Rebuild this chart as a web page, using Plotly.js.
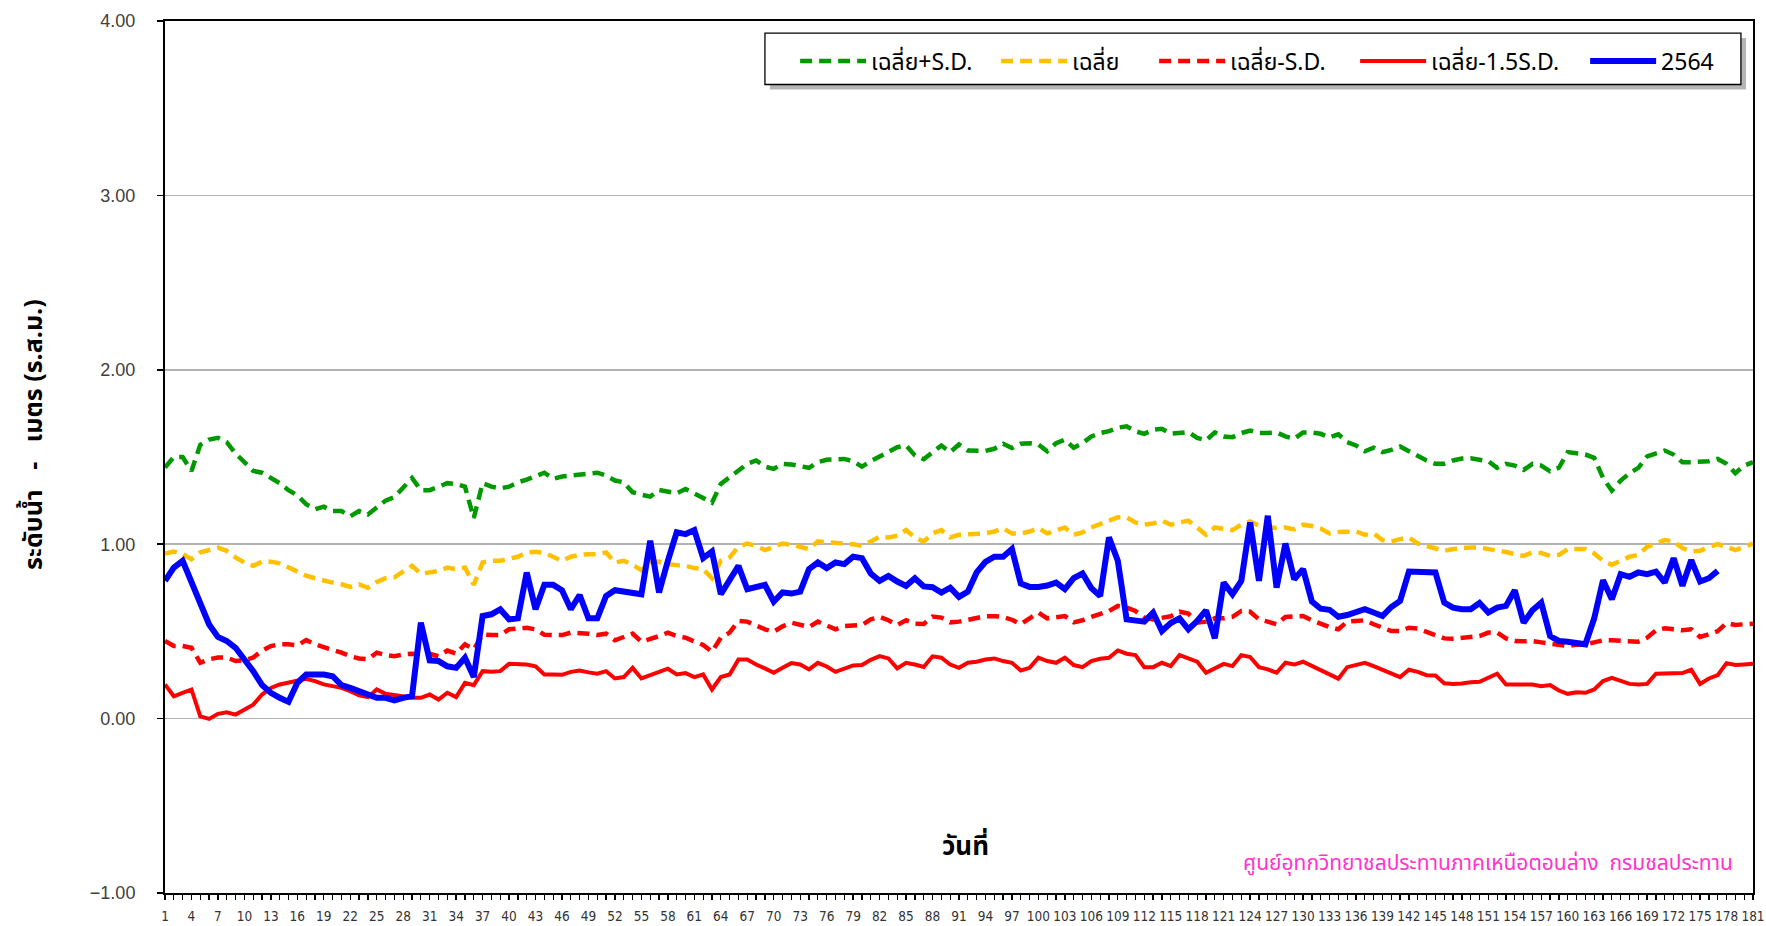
<!DOCTYPE html>
<html>
<head>
<meta charset="utf-8">
<script src="https://cdn.plot.ly/plotly-3.0.1.min.js"></script>
<style>
  html, body { margin: 0; padding: 0; background: #ffffff; }
  #chart { width: 1766px; height: 926px; }
</style>
</head>
<body>
<div id="chart"></div>
<script>
// Day numbers (category axis)
const days = [
  1,2,3,4,5,6,7,8,9,10,11,12,13,14,15,16,17,18,19,20,
  21,22,23,24,25,26,27,28,29,30,31,32,33,34,35,36,37,38,39,40,
  41,42,43,44,45,46,47,48,49,50,51,52,53,54,55,56,57,58,59,60,
  61,62,63,64,65,66,67,68,69,70,71,72,73,74,75,76,77,78,79,80,
  81,82,83,84,85,86,87,88,89,90,91,92,93,94,95,96,97,98,99,100,
  101,102,103,104,105,106,107,108,109,110,111,112,113,114,115,116,117,118,119,120,
  121,122,123,124,125,126,127,128,129,130,131,132,133,134,135,136,137,138,139,140,
  141,142,143,144,145,146,147,148,149,150,151,152,153,154,155,156,157,158,159,160,
  161,162,163,164,165,166,167,168,169,170,171,172,173,174,175,176,177,178,179,180,181
];

// Labelled x ticks (every 3 days)
const labelDays = [1,4,7,10,13,16,19,22,25,28,31,34,37,40,43,46,49,52,55,58,61,64,67,70,73,76,79,82,85,88,
  91,94,97,100,103,106,109,112,115,118,121,124,127,130,133,136,139,142,145,148,151,154,157,160,163,166,169,172,175,178,181];

// เฉลี่ย+S.D.
const meanPlusSD = [
  1.44,1.50,1.50,1.42,1.57,1.60,1.61,1.585,1.52,1.47,1.42,1.41,1.38,1.35,1.31,1.28,1.23,1.20,1.215,1.19,
  1.19,1.16,1.19,1.17,1.21,1.25,1.27,1.33,1.38,1.31,1.31,1.33,1.35,1.345,1.33,1.15,1.35,1.33,1.32,1.33,
  1.355,1.37,1.39,1.41,1.375,1.388,1.393,1.397,1.407,1.41,1.393,1.365,1.355,1.298,1.284,1.273,1.311,1.303,1.292,1.317,
  1.288,1.265,1.238,1.346,1.384,1.426,1.461,1.48,1.445,1.432,1.461,1.457,1.445,1.438,1.47,1.484,1.487,1.489,1.476,1.445,
  1.476,1.503,1.528,1.556,1.566,1.509,1.487,1.525,1.566,1.528,1.572,1.537,1.537,1.535,1.547,1.576,1.551,1.576,1.579,1.572,
  1.533,1.579,1.599,1.553,1.579,1.618,1.637,1.648,1.668,1.676,1.648,1.633,1.656,1.662,1.633,1.637,1.643,1.61,1.595,1.641,
  1.618,1.614,1.637,1.652,1.637,1.637,1.641,1.618,1.604,1.641,1.641,1.633,1.612,1.63,1.585,1.566,1.533,1.553,1.528,1.541,
  1.56,1.533,1.503,1.48,1.461,1.461,1.48,1.491,1.493,1.486,1.476,1.438,1.461,1.451,1.426,1.461,1.451,1.418,1.438,1.528,
  1.522,1.514,1.495,1.38,1.307,1.365,1.407,1.438,1.503,1.518,1.537,1.514,1.47,1.47,1.47,1.476,1.489,1.461,1.407,1.451,1.47
];

// เฉลี่ย
const meanVal = [
  0.947,0.958,0.943,0.914,0.953,0.966,0.98,0.962,0.924,0.895,0.876,0.90,0.90,0.89,0.866,0.84,0.82,0.805,0.79,0.78,
  0.77,0.755,0.77,0.75,0.784,0.805,0.81,0.84,0.876,0.83,0.84,0.847,0.866,0.857,0.866,0.767,0.895,0.905,0.905,0.914,
  0.928,0.953,0.957,0.95,0.925,0.905,0.928,0.939,0.943,0.943,0.953,0.895,0.905,0.882,0.851,0.895,0.90,0.886,0.88,0.876,
  0.863,0.857,0.805,0.905,0.924,0.985,1.004,0.991,0.966,0.985,1.004,0.997,0.985,0.972,1.016,1.01,1.01,1.004,1.0,0.991,
  1.016,1.043,1.039,1.048,1.081,1.039,1.015,1.063,1.081,1.039,1.054,1.056,1.058,1.062,1.073,1.091,1.062,1.062,1.073,1.093,
  1.062,1.081,1.096,1.054,1.068,1.096,1.116,1.135,1.154,1.154,1.125,1.112,1.119,1.135,1.112,1.125,1.135,1.096,1.054,1.096,
  1.087,1.081,1.112,1.131,1.106,1.096,1.093,1.096,1.085,1.112,1.104,1.09,1.062,1.07,1.071,1.073,1.054,1.062,1.024,1.016,
  1.029,1.039,1.004,0.989,0.972,0.962,0.972,0.978,0.981,0.981,0.974,0.962,0.955,0.943,0.933,0.953,0.949,0.933,0.939,0.972,
  0.972,0.972,0.947,0.905,0.882,0.905,0.928,0.939,0.985,1.004,1.024,1.016,0.978,0.958,0.962,0.985,1.0,0.985,0.966,0.985,1.004
];

// เฉลี่ย-S.D.
const meanMinusSD = [
  0.445,0.416,0.416,0.406,0.32,0.34,0.35,0.35,0.33,0.335,0.35,0.39,0.416,0.426,0.426,0.42,0.45,0.426,0.41,0.397,
  0.378,0.358,0.345,0.34,0.378,0.364,0.358,0.368,0.372,0.368,0.372,0.358,0.39,0.372,0.426,0.397,0.483,0.479,0.479,0.512,
  0.518,0.521,0.512,0.481,0.479,0.479,0.493,0.493,0.487,0.479,0.487,0.449,0.468,0.487,0.441,0.454,0.473,0.493,0.473,0.464,
  0.445,0.422,0.383,0.464,0.493,0.56,0.556,0.531,0.512,0.498,0.529,0.55,0.537,0.525,0.556,0.531,0.512,0.531,0.531,0.537,
  0.569,0.583,0.564,0.537,0.564,0.544,0.543,0.585,0.579,0.552,0.556,0.567,0.575,0.587,0.587,0.583,0.567,0.541,0.575,0.608,
  0.575,0.579,0.588,0.552,0.564,0.583,0.598,0.617,0.646,0.636,0.617,0.579,0.569,0.575,0.587,0.613,0.602,0.55,0.556,0.575,
  0.575,0.583,0.617,0.613,0.569,0.556,0.541,0.583,0.588,0.588,0.564,0.544,0.525,0.512,0.556,0.56,0.564,0.541,0.518,0.502,
  0.502,0.521,0.516,0.498,0.479,0.46,0.458,0.464,0.468,0.473,0.493,0.493,0.46,0.445,0.443,0.445,0.437,0.429,0.422,0.416,
  0.424,0.426,0.437,0.449,0.449,0.447,0.445,0.441,0.464,0.506,0.518,0.514,0.506,0.512,0.468,0.483,0.502,0.548,0.537,0.541,0.544
];

// เฉลี่ย-1.5S.D.
const meanMinus15SD = [
  0.196,0.128,0.148,0.167,0.013,-0.002,0.027,0.036,0.023,0.052,0.08,0.138,0.176,0.196,0.205,0.215,0.228,0.215,0.196,0.186,
  0.176,0.157,0.134,0.123,0.167,0.142,0.134,0.123,0.119,0.119,0.138,0.109,0.148,0.123,0.205,0.192,0.272,0.268,0.272,0.314,
  0.31,0.31,0.30,0.253,0.253,0.251,0.268,0.276,0.265,0.257,0.272,0.23,0.238,0.291,0.23,0.249,0.268,0.286,0.253,0.261,
  0.238,0.253,0.167,0.238,0.253,0.339,0.339,0.31,0.288,0.263,0.291,0.318,0.31,0.282,0.32,0.299,0.268,0.288,0.305,0.307,
  0.337,0.358,0.345,0.288,0.32,0.31,0.296,0.357,0.349,0.31,0.291,0.32,0.326,0.339,0.345,0.33,0.32,0.276,0.291,0.349,
  0.33,0.32,0.349,0.307,0.295,0.33,0.343,0.349,0.391,0.372,0.364,0.295,0.295,0.32,0.301,0.364,0.345,0.326,0.263,0.291,
  0.314,0.301,0.364,0.353,0.295,0.282,0.263,0.32,0.31,0.326,0.301,0.279,0.251,0.229,0.295,0.305,0.32,0.301,0.28,0.263,
  0.238,0.28,0.268,0.249,0.247,0.203,0.199,0.201,0.209,0.211,0.234,0.257,0.196,0.196,0.196,0.196,0.186,0.192,0.161,0.142,
  0.151,0.148,0.167,0.215,0.234,0.219,0.199,0.196,0.199,0.257,0.257,0.259,0.261,0.28,0.199,0.23,0.249,0.318,0.307,0.31,0.314
];

// 2564 (observed, days 1-177)
const year2564 = [
  0.79,0.866,0.905,0.79,0.655,0.54,0.468,0.445,0.406,0.34,0.272,0.192,0.148,0.119,0.096,0.205,0.253,0.253,0.253,0.243,
  0.192,0.176,0.157,0.134,0.119,0.119,0.104,0.119,0.128,0.55,0.334,0.33,0.30,0.291,0.349,0.238,0.588,0.598,0.627,0.569,
  0.575,0.838,0.627,0.767,0.767,0.736,0.627,0.709,0.575,0.575,0.703,0.736,0.728,0.719,0.713,1.02,0.723,0.905,1.068,1.058,
  1.081,0.92,0.958,0.713,0.794,0.876,0.742,0.751,0.767,0.671,0.723,0.717,0.728,0.857,0.895,0.863,0.895,0.886,0.928,0.92,
  0.832,0.79,0.818,0.786,0.761,0.805,0.758,0.753,0.723,0.751,0.698,0.728,0.838,0.899,0.928,0.928,0.972,0.774,0.755,0.755,
  0.763,0.78,0.742,0.805,0.832,0.748,0.703,1.039,0.905,0.569,0.564,0.556,0.608,0.502,0.548,0.575,0.512,0.56,0.621,0.46,
  0.78,0.713,0.79,1.125,0.79,1.163,0.751,1.004,0.799,0.857,0.671,0.63,0.624,0.584,0.594,0.61,0.627,0.608,0.588,0.64,
  0.675,0.843,0.843,0.843,0.838,0.665,0.636,0.627,0.627,0.663,0.608,0.636,0.646,0.736,0.55,0.621,0.665,0.473,0.445,0.441,
  0.435,0.426,0.575,0.794,0.684,0.828,0.813,0.838,0.828,0.843,0.78,0.92,0.761,0.909,0.786,0.805,0.847
];

const seriesNames = ['เฉลี่ย+S.D.', 'เฉลี่ย', 'เฉลี่ย-S.D.', 'เฉลี่ย-1.5S.D.', '2564'];

const thaiFont = "Tahoma, 'Noto Sans Thai', 'Noto Sans', 'DejaVu Sans', sans-serif";
const narrowFont = "'Liberation Sans Narrow', 'DejaVu Sans Condensed', 'Arial Narrow', sans-serif";

const traces = [
  { x: days, y: meanPlusSD, name: seriesNames[0], type: 'scatter', mode: 'lines', legendwidth: 120,
    line: { color: '#009900', width: 4.5, dash: '12px,7px' } },
  { x: days, y: meanVal, name: seriesNames[1], type: 'scatter', mode: 'lines', legendwidth: 77,
    line: { color: '#FFC000', width: 4.5, dash: '12px,7px' } },
  { x: days, y: meanMinusSD, name: seriesNames[2], type: 'scatter', mode: 'lines', legendwidth: 120,
    line: { color: '#FF0000', width: 4.5, dash: '12px,7px' } },
  { x: days, y: meanMinus15SD, name: seriesNames[3], type: 'scatter', mode: 'lines', legendwidth: 149,
    line: { color: '#FF0000', width: 4 } },
  { x: days.slice(0, year2564.length), y: year2564, name: seriesNames[4], type: 'scatter', mode: 'lines', legendwidth: 60,
    line: { color: '#0000FF', width: 6 } }
];

const tickText = days.map(d => (labelDays.indexOf(d) >= 0 ? String(d) : ''));

const layout = {
  width: 1766, height: 926,
  margin: { l: 165, r: 13, t: 21, b: 33 },
  paper_bgcolor: '#ffffff', plot_bgcolor: '#ffffff',
  showlegend: true,
  xaxis: {
    range: [1, 181], tickmode: 'array', tickvals: days, ticktext: tickText,
    ticks: 'outside', ticklen: 5, tickwidth: 1.3, tickcolor: '#000000',
    showline: true, linecolor: '#000000', linewidth: 2, mirror: true,
    showgrid: false, zeroline: false,
    tickfont: { family: narrowFont, size: 13.5, color: '#333333' },
    ticklabelstandoff: 5, tickangle: 0
  },
  xaxis2: {
    overlaying: 'x', anchor: 'y', side: 'bottom', matches: 'x',
    range: [1, 181], tickmode: 'array', tickvals: days,
    ticks: 'inside', ticklen: 5, tickwidth: 1.3, tickcolor: '#000000',
    showticklabels: false, showline: false, showgrid: false, zeroline: false
  },
  yaxis: {
    range: [-1, 4], tickmode: 'linear', tick0: -1, dtick: 1, tickformat: '.2f',
    ticks: 'outside', ticklen: 6, tickwidth: 1.5, tickcolor: '#000000',
    showline: true, linecolor: '#000000', linewidth: 2, mirror: true,
    showgrid: true, gridcolor: '#b3b3b3', gridwidth: 1.5, zeroline: false,
    tickfont: { family: "'Liberation Sans', Arial, sans-serif", size: 18, color: '#404040' },
    ticklabelstandoff: 18
  },
  yaxis2: {
    overlaying: 'y', anchor: 'x', side: 'left', matches: 'y',
    range: [-1, 4], tickmode: 'linear', tick0: -1, dtick: 0.2,
    ticks: 'inside', ticklen: 7, tickwidth: 1.3, tickcolor: '#000000',
    showticklabels: false, showline: false, showgrid: false, zeroline: false
  },
  legend: {
    orientation: 'h', x: 0.3968, xanchor: 'left', y: 0.954, yanchor: 'middle',
    bgcolor: 'rgba(0,0,0,0)', borderwidth: 0, itemwidth: 66,
    font: { family: thaiFont, size: 23, color: '#000000' },
    traceorder: 'normal'
  },
  shapes: [
    { type: 'rect', xref: 'paper', yref: 'paper', x0: 0.3809, x1: 0.9956, y0: 0.9214, y1: 0.9805,
      line: { width: 0 }, fillcolor: 'rgba(120,120,120,0.55)', layer: 'above' },
    { type: 'rect', xref: 'paper', yref: 'paper', x0: 0.3778, x1: 0.9924, y0: 0.9272, y1: 0.9862,
      line: { width: 1.3, color: '#000000' }, fillcolor: '#ffffff', layer: 'above' }
  ],
  annotations: [
    { text: '<b>ระดับน้ำ   -   เมตร (ร.ส.ม.)</b>', xref: 'paper', yref: 'paper', x: -0.0825, y: 0.5264,
      xanchor: 'center', yanchor: 'middle', textangle: -90, showarrow: false,
      font: { family: thaiFont, size: 25, color: '#000000' } },
    { text: '<b>วันที่</b>', xref: 'paper', yref: 'paper', x: 0.5044, y: 0.0528,
      xanchor: 'center', yanchor: 'middle', showarrow: false,
      font: { family: thaiFont, size: 26, color: '#000000' } },
    { text: 'ศูนย์อุทกวิทยาชลประทานภาคเหนือตอนล่าง  กรมชลประทาน', xref: 'paper', yref: 'paper', x: 0.9887, y: 0.0333,
      xanchor: 'right', yanchor: 'middle', showarrow: false,
      font: { family: thaiFont, size: 21, color: '#FF33CC' } }
  ]
};

Plotly.newPlot('chart', traces, layout, { displayModeBar: false, staticPlot: true });
</script>
</body>
</html>
